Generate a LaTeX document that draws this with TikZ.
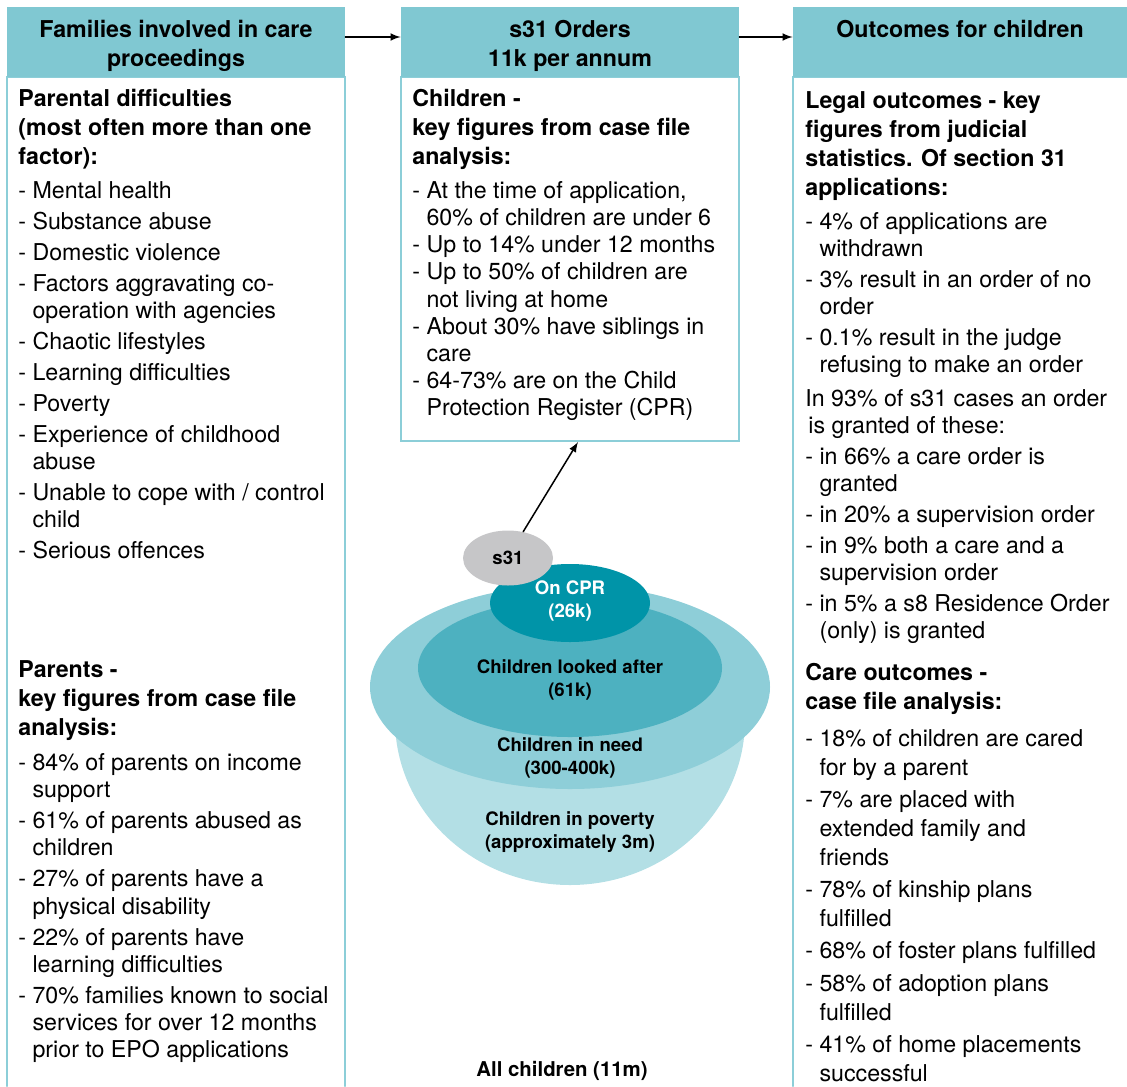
\documentclass[tikz,border=0pt]{standalone}
\usepackage{fontspec}
\setmainfont{TeX Gyre Heros}
\usetikzlibrary{shapes.geometric}
\definecolor{hdrfill}{RGB}{128,200,210}
\definecolor{boxline}{RGB}{140,206,216}
\definecolor{povfill}{RGB}{179,223,229}
\definecolor{needfill}{RGB}{142,206,216}
\definecolor{clafill}{RGB}{77,177,192}
\definecolor{cprfill}{RGB}{0,148,168}
\definecolor{sgray}{RGB}{198,198,200}
\newcommand{\bodyfont}{\fontsize{11.6pt}{13.6pt}\selectfont}
\newcommand{\headfont}{\bfseries\fontsize{11.6pt}{14.5pt}\selectfont}
\newcommand{\labfont}{\bfseries\fontsize{9.3pt}{11.5pt}\selectfont}
\newcommand{\cont}{\hphantom{- }}
\newcommand{\hstrut}{\rule{0pt}{12.5pt}}
\def\gap{1.9pt}
\begin{document}
\begin{tikzpicture}[x=0.5pt,y=-0.5pt,>=latex,line cap=round,
  hdr/.style={fill=hdrfill,minimum height=35pt,inner sep=0pt,align=center,font=\headfont},
  bodybox/.style={draw=boxline,line width=1pt,fill=white,minimum width=169pt,inner sep=0pt},
  txt/.style={anchor=north west,inner sep=0pt,align=left,font=\bodyfont},
  txthd/.style={txt,font=\headfont},
  lab/.style={align=center,inner sep=0pt,font=\labfont}]
\useasboundingbox (0,0) rectangle (1127,1086);
% body boxes
\draw[boxline,line width=1pt] (7,1086) -- (7,77) -- (345,77) -- (345,1086);
\node[bodybox,minimum height=182pt] (mbody) at (570,259) {};
\draw[boxline,line width=1pt] (793,1086) -- (793,77) -- (1127,77);
% headers
\node[hdr,minimum width=169pt] (hfam) at (176,42) {\hstrut Families involved in care\\proceedings};
\node[hdr,minimum width=169pt] (hord) at (570,42) {\hstrut s31 Orders\\11k per annum};
\node[hdr,minimum width=167pt] (hout) at (960,42) {\hstrut Outcomes for children\\\rule[-2.3pt]{0pt}{0pt}};
\draw[->,line width=0.75pt] ([yshift=2.5pt]hfam.east) -- ([yshift=2.5pt]hord.west);
\draw[->,line width=0.75pt] ([yshift=2.5pt]hord.east) -- ([yshift=2.5pt]hout.west);
% left column
\node[txthd] (parhd) at (18,89) {Parental difficulties\\(most often more than one\\factor):};
\node[txt] (parlist) at (18,181) {- Mental health\\[\gap]
  - Substance abuse\\[\gap]
  - Domestic violence\\[\gap]
  - Factors aggravating co-\\\cont operation with agencies\\[\gap]
  - Chaotic lifestyles\\[\gap]
  - Learning difficulties\\[\gap]
  - Poverty\\[\gap]
  - Experience of childhood\\\cont abuse\\[\gap]
  - Unable to cope with / control\\\cont child\\[\gap]
  - Serious offences};
\node[txthd] (prthd) at (18,660) {Parents -\\key figures from case file\\analysis:};
\node[txt] (prtlist) at (18,753) {- 84\% of parents on income\\\cont support\\[\gap]
  - 61\% of parents abused as\\\cont children\\[\gap]
  - 27\% of parents have a\\\cont physical disability\\[\gap]
  - 22\% of parents have\\\cont learning difficulties\\[\gap]
  - 70\% families known to social\\\cont services for over 12 months\\\cont prior to EPO applications};
% middle column
\node[txthd] (chdhd) at (412,89) {Children -\\key figures from case file\\analysis:};
\node[txt] (chdlist) at (412,181) {- At the time of application,\\\cont 60\% of children are under 6\\
  - Up to 14\% under 12 months\\
  - Up to 50\% of children are\\\cont not living at home\\
  - About 30\% have siblings in\\\cont care\\
  - 64-73\% are on the Child\\\cont Protection Register (CPR)};
% nested groups of children
\fill[povfill] (395,720) arc[start angle=180,end angle=0,x radius=175,y radius=165] -- cycle;
\fill[needfill] (570,687) ellipse [x radius=200,y radius=102];
\fill[clafill] (570,668) ellipse [x radius=152,y radius=69];
\fill[cprfill] (570,603) ellipse [x radius=80,y radius=39];
\node[ellipse,fill=sgray,minimum width=45pt,minimum height=27.5pt,inner sep=0pt,font=\labfont] (s31) at (508,558) {s31};
\node[lab,text=white] (cprlab) at (570,601) {On CPR\\(26k)};
\node[lab] (clalab) at (570,680) {Children looked after\\(61k)};
\node[lab] (needlab) at (570,758) {Children in need\\(300-400k)};
\node[lab] (povlab) at (570,832) {Children in poverty\\(approximately 3m)};
\node[lab,font=\bfseries\fontsize{10.2pt}{12pt}\selectfont] (alllab) at (562,1071) {All children (11m)};
\draw[->,line width=0.75pt] (s31.60) -- ([xshift=4pt]mbody.south);
% right column
\node[txthd] (leghd) at (805,91) {Legal outcomes - key\\figures from judicial\\statistics. Of section 31\\applications:};
\node[txt] (leglist) at (805,212) {- 4\% of applications are\\\cont withdrawn\\[\gap]
  - 3\% result in an order of no\\\cont order\\[\gap]
  - 0.1\% result in the judge\\\cont refusing to make an order\\[3pt]
  In 93\% of s31 cases an order\\\hspace*{1.5pt}is granted of these:\\[\gap]
  - in 66\% a care order is\\\cont granted\\[\gap]
  - in 20\% a supervision order\\[\gap]
  - in 9\% both a care and a\\\cont supervision order\\[\gap]
  - in 5\% a s8 Residence Order\\\cont (only) is granted};
\node[txthd] (carehd) at (805,663) {Care outcomes -\\case file analysis:};
\node[txt,font=\fontsize{11.6pt}{14.4pt}\selectfont] (carelist) at (805,729) {- 18\% of children are cared\\\cont for by a parent\\[1.8pt]
  - 7\% are placed with\\\cont extended family and\\\cont friends\\[1.8pt]
  - 78\% of kinship plans\\\cont fulfilled\\[1.8pt]
  - 68\% of foster plans fulfilled\\[1.8pt]
  - 58\% of adoption plans\\\cont fulfilled\\[1.8pt]
  - 41\% of home placements\\\cont successful};
\end{tikzpicture}
\end{document}
